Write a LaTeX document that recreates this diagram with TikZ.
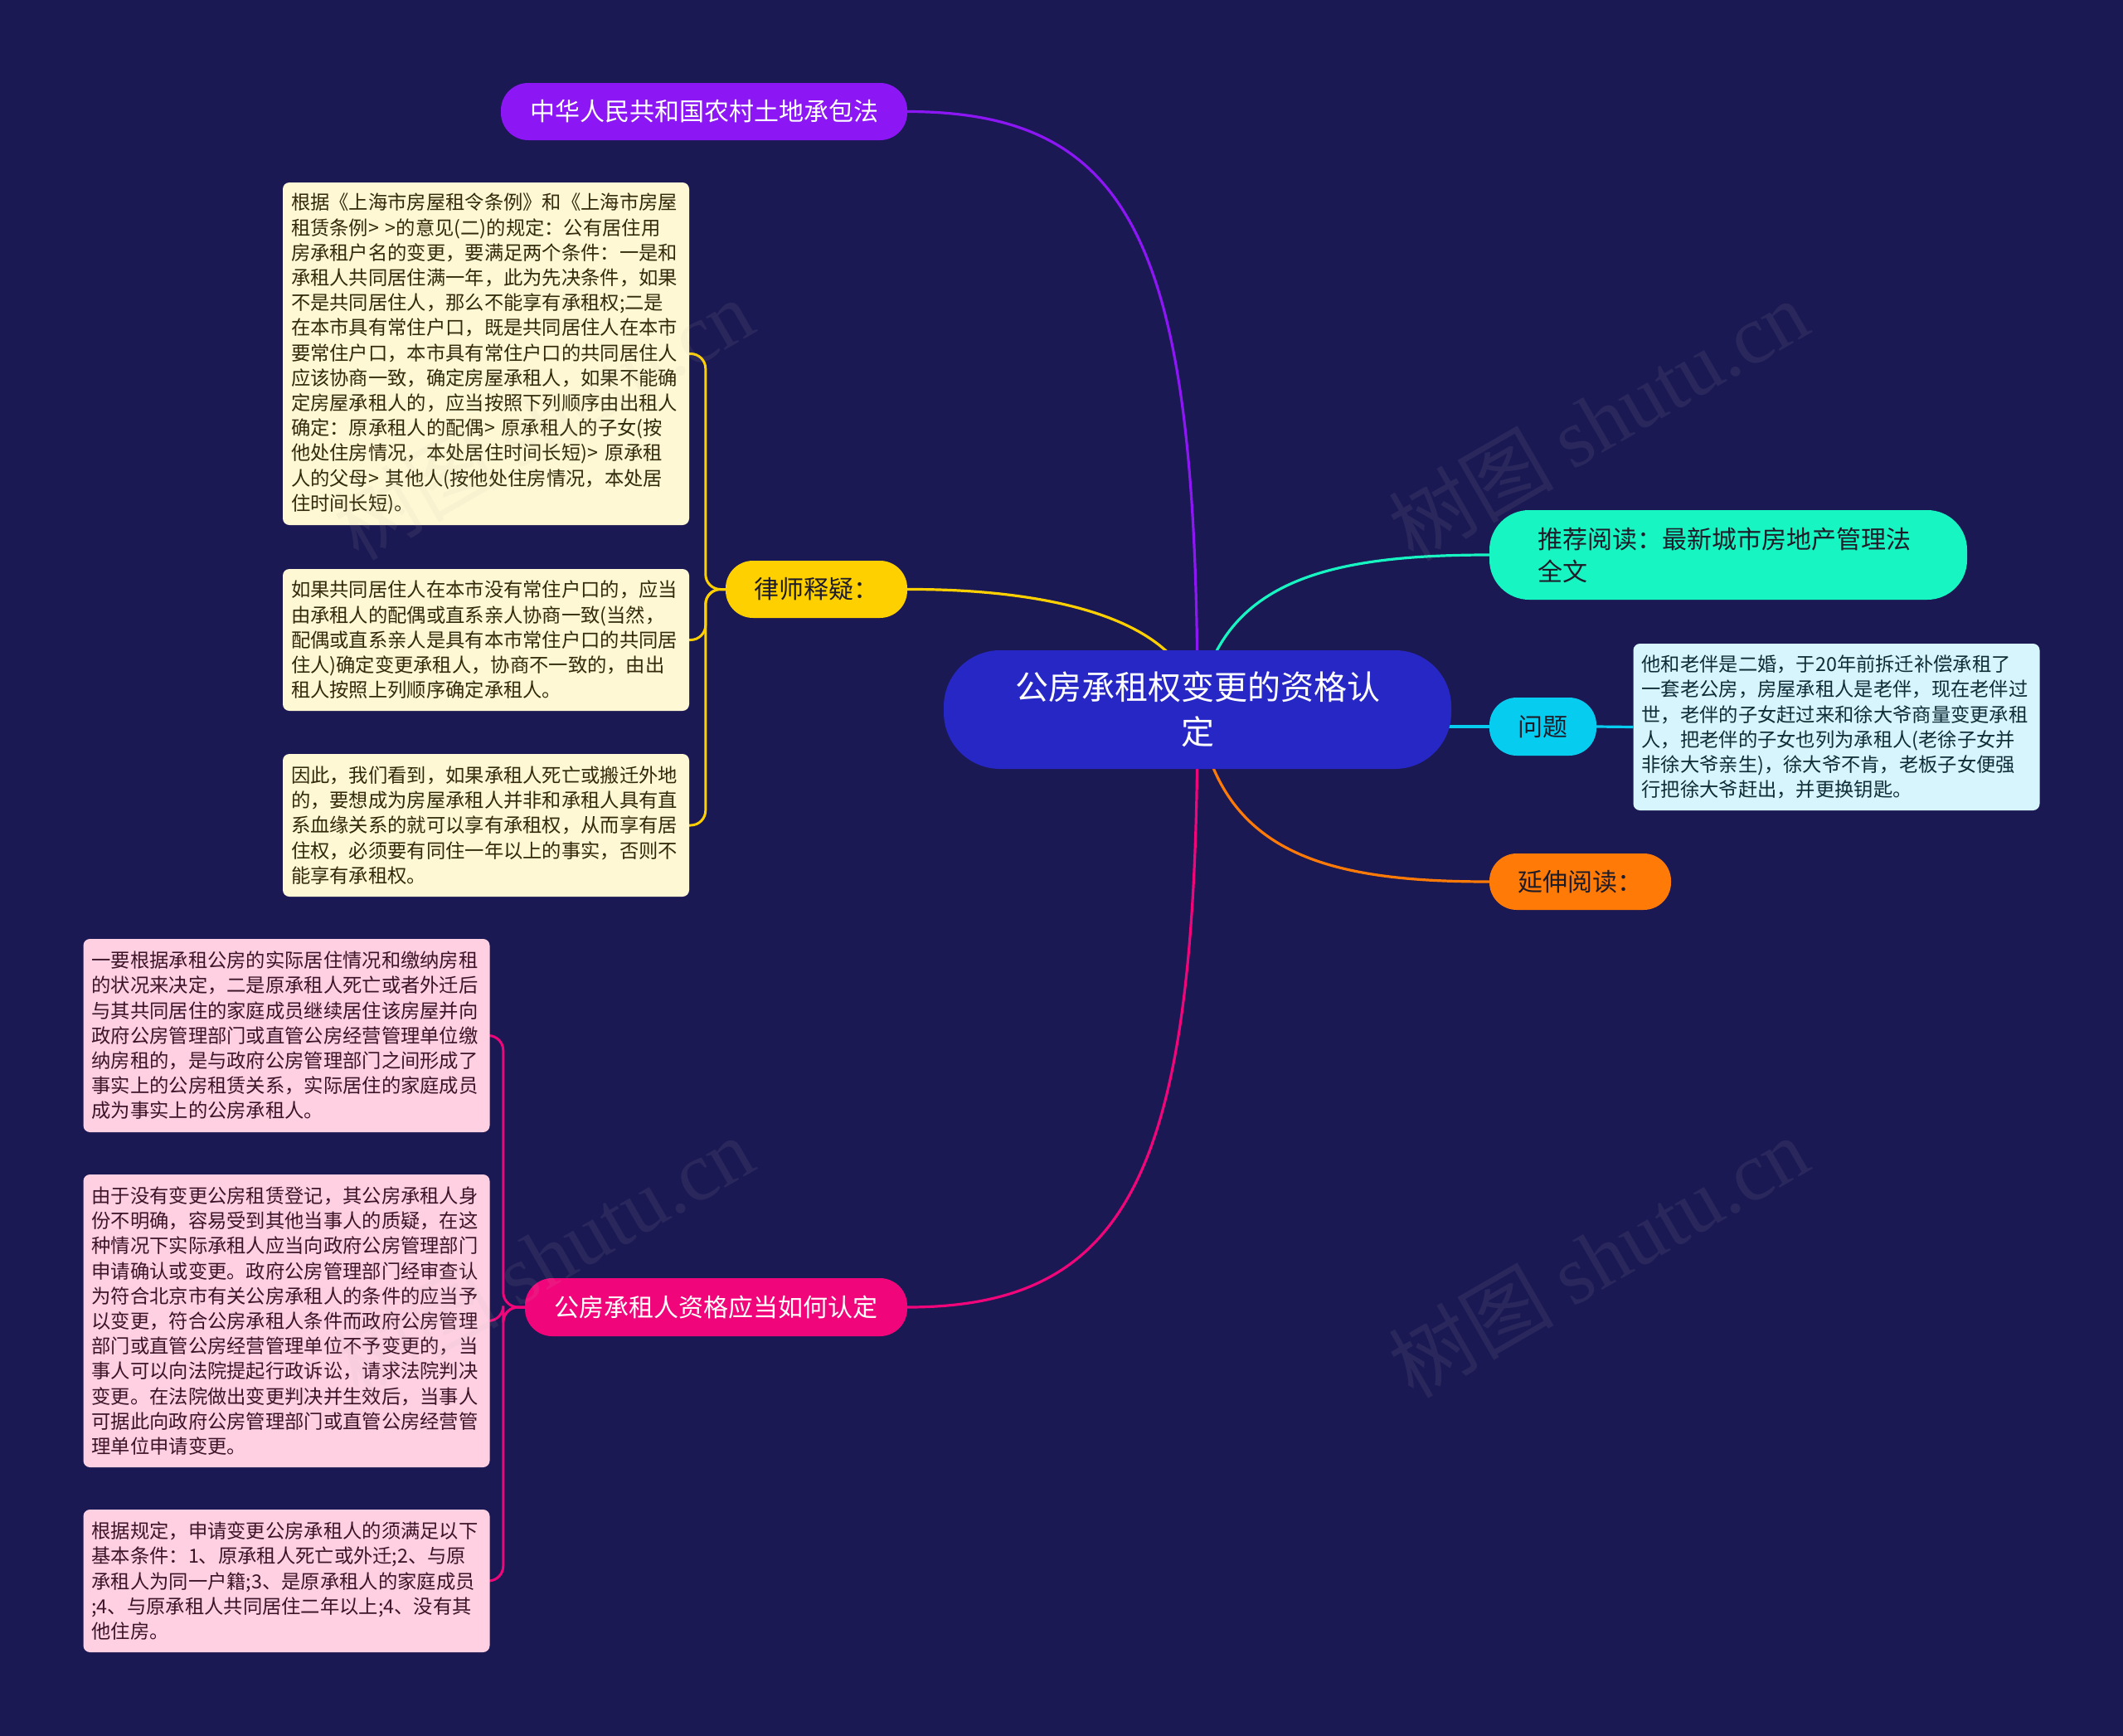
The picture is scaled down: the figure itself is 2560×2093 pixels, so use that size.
\documentclass[tikz,border=0pt]{standalone}
\usepackage{fontspec}
\setmainfont{Noto Sans CJK SC}
\newfontfamily\wmserif{Liberation Serif}
\usetikzlibrary{calc}
\definecolor{bgc}{RGB}{27,25,83}
\definecolor{centc}{RGB}{39,39,198}
\definecolor{purp}{RGB}{140,22,244}
\definecolor{yel}{RGB}{255,208,0}
\definecolor{mag}{RGB}{240,6,122}
\definecolor{teal}{RGB}{22,245,194}
\definecolor{cyanc}{RGB}{6,205,240}
\definecolor{oran}{RGB}{255,122,6}
\definecolor{cream}{RGB}{255,248,212}
\definecolor{pinkl}{RGB}{255,208,226}
\definecolor{cyanl}{RGB}{214,245,252}
\definecolor{darktx}{RGB}{30,28,40}
\definecolor{leaftxy}{RGB}{50,42,10}
\definecolor{leaftxp}{RGB}{60,20,40}
\definecolor{leaftxc}{RGB}{15,45,55}
\pgfdeclarelayer{bgl}
\pgfdeclarelayer{edges}
\pgfsetlayers{bgl,edges,main}
\begin{document}
\begin{tikzpicture}[x=1pt,y=-1pt,
  centnode/.style={fill=centc, text=white, rounded corners=68pt, minimum width=612pt, minimum height=143pt, inner sep=0pt, align=center, font=\fontsize{40}{54}\selectfont},
  branch/.style={rounded corners=33pt, minimum height=69pt, inner sep=0pt, font=\fontsize{30}{39}\selectfont},
  leafbox/.style={rounded corners=8pt, text width=470pt, inner xsep=10pt, inner ysep=0pt, align=left, font=\fontsize{23.3}{30.2}\selectfont},
  conn/.style={line width=3.2pt},
  brk/.style={line width=3pt, rounded corners=18pt},
  wmark/.style={rotate=30, text=gray!55, opacity=0.09, font=\fontsize{100}{100}\selectfont}
]
\begin{pgfonlayer}{bgl}
\fill[bgc] (0,0) rectangle (2560,2093);
\end{pgfonlayer}
\useasboundingbox (0,0) rectangle (2560,2093);

% central
\node[centnode] (c) at (1444,855.5) {公房承租权变更的资格认\\定};

% branches
\node[branch, fill=purp, text=white, minimum width=490pt] (law) at (849,134.5) {中华人民共和国农村土地承包法};
\node[branch, fill=yel, text=darktx, minimum width=219pt] (lawyer) at (984.5,710.5) {律师释疑：};
\node[branch, fill=mag, text=white, minimum width=461pt, minimum height=70pt] (howto) at (863.5,1576) {公房承租人资格应当如何认定};
\node[fill=teal, text=darktx, rounded corners=48pt, minimum height=108pt, text width=460pt, inner xsep=58pt, inner ysep=0pt, align=left, font=\fontsize{30}{39}\selectfont] (rec) at (2084,669) {推荐阅读：最新城市房地产管理法\\全文};
\node[branch, fill=cyanc, text=darktx, minimum width=129pt, minimum height=70pt] (q) at (1860.5,876) {问题};
\node[branch, fill=oran, text=darktx, minimum width=219pt, minimum height=68pt] (ext) at (1905.5,1063) {延伸阅读：};

% yellow leaves
\node[leafbox, fill=cream, text=leaftxy, minimum height=413pt] (y1) at (586,426.5) {根据《上海市房屋租令条例》和《上海市房屋\\租赁条例> >的意见(二)的规定：公有居住用\\房承租户名的变更，要满足两个条件：一是和\\承租人共同居住满一年，此为先决条件，如果\\不是共同居住人，那么不能享有承租权;二是\\在本市具有常住户口，既是共同居住人在本市\\要常住户口，本市具有常住户口的共同居住人\\应该协商一致，确定房屋承租人，如果不能确\\定房屋承租人的，应当按照下列顺序由出租人\\确定：原承租人的配偶> 原承租人的子女(按\\他处住房情况，本处居住时间长短)> 原承租\\人的父母> 其他人(按他处住房情况，本处居\\住时间长短)。};
\node[leafbox, fill=cream, text=leaftxy, minimum height=171pt] (y2) at (586,771.5) {如果共同居住人在本市没有常住户口的，应当\\由承租人的配偶或直系亲人协商一致(当然，\\配偶或直系亲人是具有本市常住户口的共同居\\住人)确定变更承租人，协商不一致的，由出\\租人按照上列顺序确定承租人。};
\node[leafbox, fill=cream, text=leaftxy, minimum height=172pt] (y3) at (586,995) {因此，我们看到，如果承租人死亡或搬迁外地\\的，要想成为房屋承租人并非和承租人具有直\\系血缘关系的就可以享有承租权，从而享有居\\住权，必须要有同住一年以上的事实，否则不\\能享有承租权。};

% pink leaves
\node[leafbox, fill=pinkl, text=leaftxp, minimum height=233pt] (p1) at (345.5,1248.5) {一要根据承租公房的实际居住情况和缴纳房租\\的状况来决定，二是原承租人死亡或者外迁后\\与其共同居住的家庭成员继续居住该房屋并向\\政府公房管理部门或直管公房经营管理单位缴\\纳房租的，是与政府公房管理部门之间形成了\\事实上的公房租赁关系，实际居住的家庭成员\\成为事实上的公房承租人。};
\node[leafbox, fill=pinkl, text=leaftxp, minimum height=353pt] (p2) at (345.5,1592.5) {由于没有变更公房租赁登记，其公房承租人身\\份不明确，容易受到其他当事人的质疑，在这\\种情况下实际承租人应当向政府公房管理部门\\申请确认或变更。政府公房管理部门经审查认\\为符合北京市有关公房承租人的条件的应当予\\以变更，符合公房承租人条件而政府公房管理\\部门或直管公房经营管理单位不予变更的，当\\事人可以向法院提起行政诉讼，请求法院判决\\变更。在法院做出变更判决并生效后，当事人\\可据此向政府公房管理部门或直管公房经营管\\理单位申请变更。};
\node[leafbox, fill=pinkl, text=leaftxp, minimum height=172pt] (p3) at (345.5,1906) {根据规定，申请变更公房承租人的须满足以下\\基本条件：1、原承租人死亡或外迁;2、与原\\承租人为同一户籍;3、是原承租人的家庭成员\\;4、与原承租人共同居住二年以上;4、没有其\\他住房。};

% cyan leaf
\node[leafbox, fill=cyanl, text=leaftxc, minimum height=201pt] (c1) at (2214.5,876.5) {他和老伴是二婚，于20年前拆迁补偿承租了\\一套老公房，房屋承租人是老伴，现在老伴过\\世，老伴的子女赶过来和徐大爷商量变更承租\\人，把老伴的子女也列为承租人(老徐子女并\\非徐大爷亲生)，徐大爷不肯，老板子女便强\\行把徐大爷赶出，并更换钥匙。};

% connectors
\begin{pgfonlayer}{edges}
\draw[conn, purp] (c.center) .. controls (1444,300) and (1370,135) .. (law.east);
\draw[conn, yel] (c.center) .. controls (1430,740) and (1250,710) .. (lawyer.east);
\draw[conn, mag] (c.center) .. controls (1444,1400) and (1370,1576) .. (howto.east);
\draw[conn, teal] (c.center) .. controls (1470,700) and (1600,669) .. (rec.west);
\draw[conn, oran] (c.center) .. controls (1470,1030) and (1600,1063) .. (ext.west);
\draw[conn, cyanc] (q.west -| c.center) -- (q.west);
\draw[conn, cyanc] (q.east) -- (c1.west);
% brackets
\draw[brk, yel] (lawyer.west) -- ++(-24,0) |- (y1.east);
\draw[brk, yel] (lawyer.west) -- ++(-24,0) |- (y2.east);
\draw[brk, yel] (lawyer.west) -- ++(-24,0) |- (y3.east);
\draw[brk, mag] (howto.west) -- ++(-26,0) |- (p1.east);
\draw[brk, mag] (howto.west) -- ++(-26,0) |- (p2.east);
\draw[brk, mag] (howto.west) -- ++(-26,0) |- (p3.east);
\end{pgfonlayer}

% watermarks
\node[wmark] (w1) at (655,505) {树图 {\wmserif shutu.cn}};
\node[wmark] (w2) at (1927,506) {树图 {\wmserif shutu.cn}};
\node[wmark] (w3) at (655,1515) {树图 {\wmserif shutu.cn}};
\node[wmark] (w4) at (1927,1515) {树图 {\wmserif shutu.cn}};
\end{tikzpicture}
\end{document}
